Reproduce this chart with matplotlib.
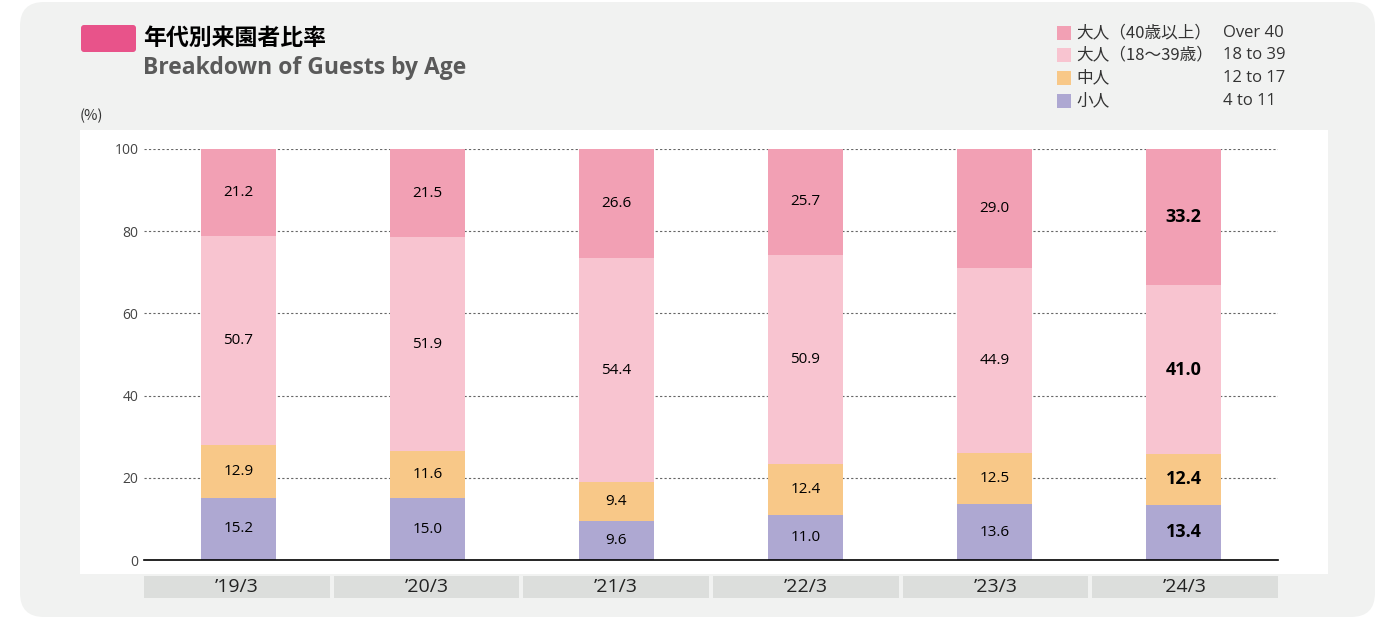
import numpy as np
import matplotlib
matplotlib.use("Agg")
from matplotlib import pyplot as plt
from matplotlib.patches import FancyBboxPatch, Rectangle
from matplotlib.transforms import IdentityTransform, blended_transform_factory

plt.rcParams['font.family'] = ['Noto Sans CJK JP', 'DejaVu Sans']

# data
years = ["’19/3", "’20/3", "’21/3", "’22/3", "’23/3", "’24/3"]
child = [15.2, 15.0, 9.6, 11.0, 13.6, 13.4]        # 4 to 11
middle = [12.9, 11.6, 9.4, 12.4, 12.5, 12.4]       # 12 to 17
adult_young = [50.7, 51.9, 54.4, 50.9, 44.9, 41.0] # 18 to 39
adult_old = [21.2, 21.5, 26.6, 25.7, 29.0, 33.2]   # over 40

series = [child, middle, adult_young, adult_old]
colors = ["#aea8d2", "#f8c888", "#f8c4d0", "#f2a0b4"]
legend_jp = ["小人", "中人", "大人（18〜39歳）", "大人（40歳以上）"]
legend_en = ["4 to 11", "12 to 17", "18 to 39", "Over 40"]

W, H = 1377, 618
fig = plt.figure(figsize=(W / 100, H / 100), dpi=100)
fig.patch.set_facecolor("white")
latin = ["Open Sans", "DejaVu Sans"]

# gray rounded panel and white plot area (pixel coords)
fig.patches.append(FancyBboxPatch((20, 1), 1355, 615, boxstyle="round,pad=0,rounding_size=24",
                                  transform=IdentityTransform(), facecolor="#f1f2f1",
                                  edgecolor="none", zorder=-3))
fig.patches.append(Rectangle((80, H - 574), 1248, 444, transform=IdentityTransform(),
                             facecolor="white", edgecolor="none", zorder=-2))

# title
fig.patches.append(FancyBboxPatch((81, H - 52), 55, 27, boxstyle="round,pad=0,rounding_size=3",
                                  transform=IdentityTransform(), facecolor="#e8538a",
                                  edgecolor="none", zorder=1))
fig.text(143 / W, 1 - 38 / H, "年代別来園者比率", fontsize=16.5, fontweight="bold",
         color="black", va="center", ha="left")
fig.text(143 / W, 1 - 68 / H, "Breakdown of Guests by Age", fontsize=16.5, fontweight="bold",
         color="#5a5a5a", va="center", ha="left", family=latin)
fig.text(80 / W, 1 - 116 / H, "(%)", fontsize=10.5, color="#333333", va="center", ha="left")

# legend (top to bottom: over 40 first)
rows_y = [33, 55, 78, 101]
for k, row in enumerate(rows_y):
    i = 3 - k
    fig.patches.append(Rectangle((1057, H - row - 7), 14, 14, transform=IdentityTransform(),
                                 facecolor=colors[i], edgecolor="none"))
    fig.text(1076 / W, 1 - row / H, legend_jp[i], fontsize=12, color="#333333",
             va="center", ha="left")
    fig.text(1223 / W, 1 - row / H, legend_en[i], fontsize=12, color="#333333",
             va="center", ha="left", family=latin)

# axes
ax = fig.add_axes([144 / W, 1 - 560 / H, (1278 - 144) / W, (560 - 149) / H])
ax.set_facecolor("none")
x = np.arange(len(years))
bottom = np.zeros(len(years))
for vals, c in zip(series, colors):
    ax.bar(x, vals, width=0.4, bottom=bottom, color=c, zorder=3)
    for j, v in enumerate(vals):
        last = j == len(years) - 1
        ax.text(x[j], bottom[j] + v / 2, f"{v:.1f}", ha="center", va="center",
                fontsize=13 if last else 11, fontweight="bold" if last else "normal",
                color="black", zorder=4, family=latin)
    bottom += np.array(vals)

ax.set_xlim(-0.5, len(years) - 0.5)
ax.set_ylim(0, 100)
ax.set_yticks([0, 20, 40, 60, 80, 100])
ax.tick_params(axis="y", length=0, pad=4, labelsize=10, labelcolor="#444444")
for lab in ax.get_yticklabels():
    lab.set_family(latin)
ax.set_xticks([])
for t in [20, 40, 60, 80, 100]:
    ax.axhline(t, color="#666666", linestyle=(0, (2, 2)), linewidth=0.8, zorder=1)
for s in ["top", "right", "left"]:
    ax.spines[s].set_visible(False)
ax.spines["bottom"].set_color("black")
ax.spines["bottom"].set_linewidth(1.2)
ax.spines["bottom"].set_zorder(5)

# category label boxes spanning the full axis width with small gaps
trans = blended_transform_factory(ax.transData, ax.transAxes)
n = len(years)
gap = 0.021
bw = (n - (n - 1) * gap) / n
for j, lab in enumerate(years):
    x0 = -0.5 + j * (bw + gap)
    ax.add_patch(Rectangle((x0, -0.092), bw, 0.053, transform=trans,
                           facecolor="#dcdedc", edgecolor="none", clip_on=False))
    ax.text(x0 + bw / 2, -0.066, lab, transform=trans, ha="center", va="center", fontsize=14,
            color="#222222", family=latin)

fig.savefig("out.png", dpi=100)
